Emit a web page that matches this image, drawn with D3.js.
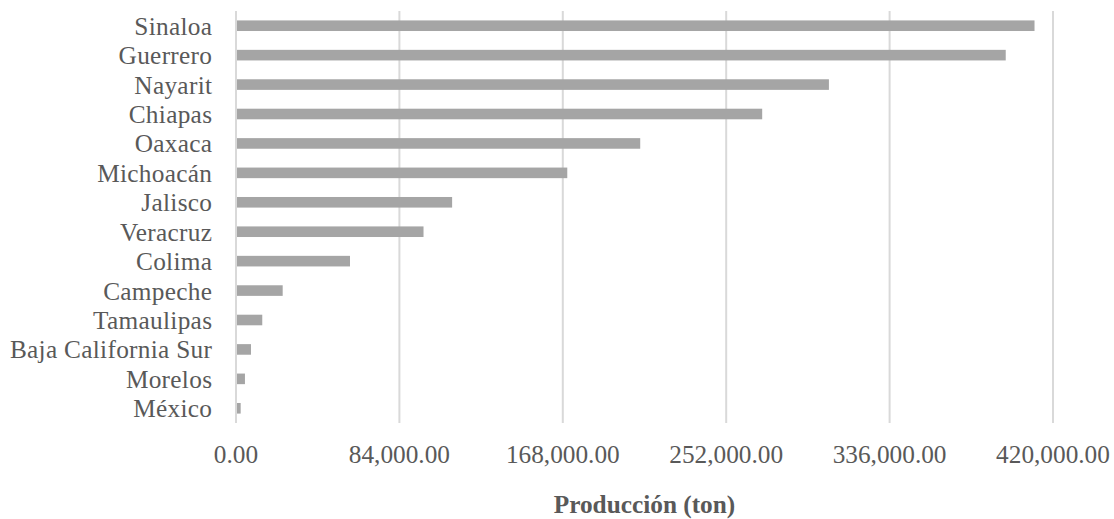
<!DOCTYPE html>
<html>
<head>
<meta charset="utf-8">
<script src="https://cdn.jsdelivr.net/npm/d3@7"></script>
<style>
  html, body { margin: 0; padding: 0; background: #fff; }
  svg { display: block; }
  text { font-family: "Liberation Serif", "Times New Roman", serif; fill: #595959; }
</style>
</head>
<body>
<svg id="chart" width="1114" height="519"></svg>
<script>
// Producción por estado (toneladas)
const estados = ["Sinaloa", "Guerrero", "Nayarit", "Chiapas", "Oaxaca", "Michoacán",
  "Jalisco", "Veracruz", "Colima", "Campeche", "Tamaulipas", "Baja California Sur",
  "Morelos", "México"];
const produccion = [410500, 395700, 304800, 270500, 207800, 170300,
  111100, 96400, 58600, 24000, 13500, 7700, 4600, 2400];
const ticks = [0, 84000, 168000, 252000, 336000, 420000];
const tituloX = "Producción (ton)";

const svg = d3.select("#chart");
const margin = { left: 236, right: 61, top: 11, bottom: 96 };
const W = 1114, H = 519;

const x = d3.scaleLinear().domain([0, 420000]).range([margin.left, W - margin.right]);
const y = d3.scaleBand().domain(estados).range([margin.top, H - margin.bottom])
  .paddingInner(0.64).paddingOuter(0.32);

const fmt = d3.format(",.2f");

// vertical gridlines (including the baseline at zero)
svg.append("g").selectAll("line").data(ticks).join("line")
  .attr("x1", d => x(d)).attr("x2", d => x(d))
  .attr("y1", margin.top).attr("y2", H - margin.bottom)
  .attr("stroke", "#d9d9d9").attr("stroke-width", 2);

// bars
svg.append("g").selectAll("rect").data(estados).join("rect")
  .attr("x", x(0) + 1)
  .attr("y", d => y(d))
  .attr("width", (d, i) => x(produccion[i]) - x(0) - 1)
  .attr("height", y.bandwidth())
  .attr("fill", "#a5a5a5");

// category labels
svg.append("g").selectAll("text").data(estados).join("text")
  .attr("x", 212.3)
  .attr("y", d => y(d) + y.bandwidth() / 2 + 9)
  .attr("text-anchor", "end")
  .attr("font-size", "25.3px")
  .attr("letter-spacing", "0.3px")
  .text(d => d);

// x tick labels
svg.append("g").selectAll("text").data(ticks).join("text")
  .attr("x", d => x(d))
  .attr("y", 463)
  .attr("text-anchor", "middle")
  .attr("font-size", "25.3px")
  .text(d => fmt(d));

// axis title
svg.append("text")
  .attr("x", (x(0) + x(420000)) / 2)
  .attr("y", 513)
  .attr("text-anchor", "middle")
  .attr("font-size", "25.3px")
  .attr("font-weight", "bold")
  .text(tituloX);
</script>
</body>
</html>
